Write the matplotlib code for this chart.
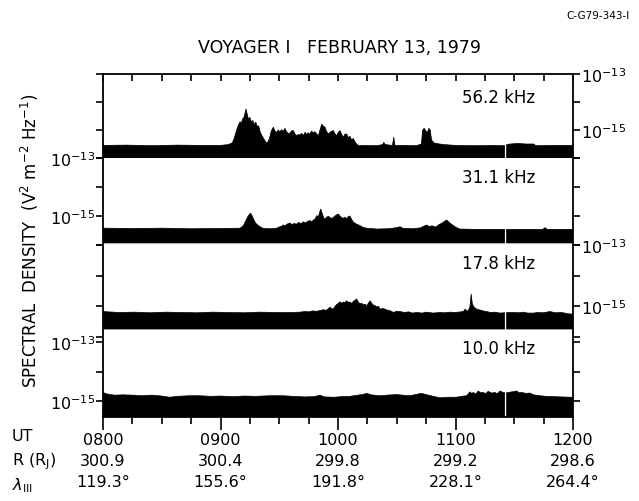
import numpy as np
import matplotlib
matplotlib.use("Agg")
import matplotlib.pyplot as plt
from matplotlib.ticker import FixedLocator, NullLocator, FuncFormatter, MultipleLocator

nan = np.nan

# (minutes after 0800 UT, log10 spectral density in V^2 m^-2 Hz^-1)
p56 = [
 (0,-15.55),(12,-15.54),(25,-15.56),(38,-15.54),(50,-15.55),(60,-15.55),(64,-15.52),(66,-15.46),(67,-15.3),(68,-15.05),
 (69,-14.85),(70,-14.7),(70.6,-14.78),(71.3,-14.6),(72,-14.55),(72.5,-14.4),(73,-14.25),(73.6,-14.42),(74.3,-14.62),(75,-14.55),
 (75.8,-14.72),(76.5,-14.66),(77.2,-14.8),(78,-14.72),(78.8,-14.88),(79.5,-14.85),(80.2,-15.05),(81,-15.18),(82,-15.3),(83,-15.42),
 (84,-15.46),(85,-15.3),(86,-15.02),(87,-14.9),(87.8,-15.04),(88.7,-15.08),(89.5,-15.0),(90.3,-15.06),(91.2,-14.99),(92,-15.05),
 (92.9,-14.94),(93.8,-15.06),(94.6,-15.12),(95.5,-15.11),(96.3,-15.03),(97.2,-15.02),(98,-15.14),(98.9,-15.2),(99.8,-15.16),(100.6,-15.18),
 (101.5,-15.12),(102.3,-15.2),(103.2,-15.08),(104,-15.16),(104.8,-15.1),(105.7,-15.14),(106.5,-15.04),(107.4,-15.1),(108.3,-15.06),(109.1,-15.14),
 (110,-15.2),(110.8,-15.0),(111.7,-14.79),(112.5,-14.86),(113.4,-14.9),(114.2,-15.06),(115.1,-15.14),(116,-15.08),(116.8,-15.04),(117.6,-15.02),
 (118.5,-15.14),(119.3,-15.2),(120.2,-15.08),(121,-15.02),(121.9,-15.16),(122.7,-15.26),(123.5,-15.15),(124.4,-15.14),(125.3,-15.28),(126.1,-15.22),
 (127,-15.36),(127.8,-15.3),(128.7,-15.42),(129.5,-15.5),(130.5,-15.56),(135,-15.55),(140,-15.56),(142.8,-15.52),(143.4,-15.44),(144.1,-15.52),
 (147.8,-15.55),(148.5,-15.26),(149.1,-15.55),(155,-15.55),(160,-15.56),(162.6,-15.5),(163.2,-15.0),(164,-14.94),(164.8,-15.02),(165.6,-15.1),
 (166.4,-14.94),(167.1,-15.0),(167.8,-15.36),(169,-15.46),(171,-15.49),(174,-15.52),(180,-15.55),(190,-15.56),(200,-15.55),(205.1,-15.56),
 (205.6,nan),(206.1,-15.52),(208,-15.5),(212,-15.48),(216,-15.5),(220,-15.5),(221,-15.56),(230,-15.55),(240,-15.55)
]
p31 = [
 (0,-15.42),(15,-15.43),(30,-15.42),(45,-15.44),(60,-15.43),(70,-15.42),(71.7,-15.33),(73,-15.15),(74.2,-14.99),(75.4,-14.9),
 (76.2,-15.0),(76.8,-15.1),(78,-15.25),(79.3,-15.33),(81,-15.4),(82,-15.43),(86,-15.44),(88.7,-15.42),(90,-15.38),(91,-15.36),
 (92.1,-15.31),(93,-15.34),(94,-15.28),(95.5,-15.24),(96.5,-15.3),(97.5,-15.26),(98.9,-15.28),(100,-15.22),(101,-15.27),(102.3,-15.2),
 (103.5,-15.24),(104.5,-15.18),(105.7,-15.16),(106.6,-15.2),(107.4,-15.14),(108.3,-15.1),(109.1,-14.99),(110,-15.02),(110.6,-14.88),(111.2,-14.76),
 (112,-14.92),(112.8,-15.08),(113.4,-15.1),(114.2,-15.04),(115.1,-15.01),(116,-15.06),(117,-15.08),(117.6,-15.05),(118.4,-15.0),(119.3,-14.96),
 (120.2,-14.93),(121,-15.0),(121.8,-15.05),(122.7,-15.08),(123.5,-15.04),(124.4,-15.1),(125.3,-15.02),(126.1,-15.0),(127,-15.12),(127.8,-15.21),
 (129.5,-15.28),(131.2,-15.33),(133,-15.4),(134.7,-15.42),(140,-15.45),(145,-15.44),(148,-15.42),(150,-15.4),(151.7,-15.37),(153,-15.42),
 (158,-15.44),(162,-15.41),(163.5,-15.36),(165.3,-15.31),(166.5,-15.36),(168,-15.34),(170,-15.38),(171.5,-15.3),(173,-15.25),(174.5,-15.18),
 (175.5,-15.14),(176.5,-15.2),(177.5,-15.26),(178.9,-15.33),(180.5,-15.4),(182.3,-15.45),(190,-15.46),(200,-15.46),(205.1,-15.46),(205.6,nan),
 (206.1,-15.46),(215,-15.46),(224.5,-15.46),(225.7,-15.4),(226.8,-15.46),(235,-15.46),(240,-15.46)
]
p17 = [
 (0,-15.17),(8,-15.2),(16,-15.19),(24,-15.21),(32,-15.19),(40,-15.2),(48,-15.21),(56,-15.19),(64,-15.2),(72,-15.21),
 (80,-15.19),(88,-15.2),(96,-15.2),(100.6,-15.19),(103,-15.17),(105,-15.18),(107,-15.15),(109,-15.16),(110.8,-15.14),(112.5,-15.11),
 (114,-15.13),(115.9,-15.03),(116.8,-15.07),(117.6,-15.09),(118.5,-15.0),(119.3,-14.94),(120.2,-14.9),(121,-14.85),(121.9,-14.9),(122.7,-14.86),
 (123.5,-14.88),(124.4,-14.82),(125.3,-14.87),(126.1,-14.86),(127,-14.9),(127.8,-14.84),(128.7,-14.8),(129.5,-14.76),(130.4,-14.86),(131.2,-14.92),
 (132.1,-14.9),(133,-14.95),(133.8,-14.93),(134.7,-14.98),(135.5,-14.9),(136.4,-14.82),(137.2,-14.9),(138.1,-14.96),(139,-14.98),(139.8,-15.02),
 (140.7,-15.0),(141.5,-15.09),(143.2,-15.07),(144.9,-15.12),(146.6,-15.14),(148.3,-15.2),(150,-15.16),(151.7,-15.17),(154,-15.2),(156,-15.18),
 (158,-15.22),(160.2,-15.2),(163,-15.22),(165,-15.19),(168.7,-15.22),(172,-15.2),(174.5,-15.21),(177.2,-15.19),(180,-15.2),(182.5,-15.18),
 (184,-15.17),(184.9,-15.09),(185.7,-15.15),(186.6,-15.14),(187.4,-15.0),(188,-14.6),(188.6,-14.92),(189.4,-15.02),(190.8,-15.09),(192.5,-15.12),
 (194.2,-15.15),(195.9,-15.17),(198,-15.2),(200,-15.19),(202.7,-15.22),(205.1,-15.21),(205.6,nan),(206.1,-15.2),(209.5,-15.2),(212,-15.21),
 (214.5,-15.19),(217,-15.22),(219.8,-15.22),(222,-15.2),(224.5,-15.21),(228.3,-15.17),(231,-15.21),(234,-15.2),(238.5,-15.25),(240,-15.25)
]
p10 = [
 (0,-14.71),(2,-14.76),(6,-14.8),(10,-14.79),(15.5,-14.8),(20,-14.82),(25,-14.8),(30,-14.83),(34,-14.87),(38,-14.84),
 (44,-14.82),(49.5,-14.82),(55,-14.84),(60,-14.83),(66.6,-14.85),(72,-14.83),(78,-14.84),(85,-14.82),(92,-14.82),(97,-14.84),
 (103,-14.86),(108,-14.85),(110.8,-14.8),(113,-14.86),(118,-14.87),(122,-14.85),(126.1,-14.84),(130,-14.8),(132.5,-14.78),(134.7,-14.74),
 (137,-14.79),(141.5,-14.82),(145,-14.8),(149.9,-14.78),(153,-14.8),(156.7,-14.82),(159.5,-14.78),(162.6,-14.74),(165.5,-14.79),(168.7,-14.84),
 (172,-14.89),(176,-14.87),(180.6,-14.87),(183,-14.84),(185.7,-14.82),(187.4,-14.69),(188.2,-14.74),(189.1,-14.71),(190.4,-14.76),(191.6,-14.66),
 (192.9,-14.72),(194.2,-14.71),(195.4,-14.75),(196.7,-14.67),(198.4,-14.73),(200.1,-14.71),(201.4,-14.75),(202.7,-14.66),(204,-14.7),(205.1,-14.72),
 (205.6,nan),(206.1,-14.72),(206.9,-14.71),(208.7,-14.69),(211.3,-14.66),(212.5,-14.72),(213.8,-14.71),(216,-14.74),(218.1,-14.73),(219.8,-14.79),
 (223.2,-14.82),(226,-14.84),(230,-14.85),(234,-14.86),(238.5,-14.87),(240,-14.87)
]
# lower edge (log10) of each black band
floors = [-16.0, -15.93, -15.74, -15.54]
freq_labels = ["56.2 kHz", "31.1 kHz", "17.8 kHz", "10.0 kHz"]
ut_labels = ["0800", "0900", "1000", "1100", "1200"]
r_labels = ["300.9", "300.4", "299.8", "299.2", "298.6"]
lam_labels = ["119.3°", "155.6°", "191.8°", "228.1°", "264.4°"]
hour_ticks = [0, 60, 120, 180, 240]

W, H = 639, 502
fig = plt.figure(figsize=(W / 100, H / 100), dpi=100)
plt.rcParams['font.family'] = ['DejaVu Sans']

def rect(top, bottom, left=103, right=573):
    return [left / W, 1 - bottom / H, (right - left) / W, (bottom - top) / H]

# outer frame with the time axis
axf = fig.add_axes(rect(75, 418))
axf.set_xlim(0, 240)
axf.set_ylim(0, 1)
axf.set_yticks([])
for s in axf.spines.values():
    s.set_linewidth(1.3)
axf.xaxis.set_major_locator(FixedLocator(hour_ticks))
axf.xaxis.set_minor_locator(MultipleLocator(15))
axf.set_xticklabels([f"{u}\n{r}\n{l}" for u, r, l in zip(ut_labels, r_labels, lam_labels)],
                    fontsize=11.5, linespacing=1.5)
axf.tick_params(axis='x', which='major', direction='out', length=9, width=1.2, pad=2, top=False)
axf.tick_params(axis='x', which='minor', direction='out', length=5, width=1.2, top=False)

panels = [p56, p31, p17, p10]
extents = [(75, 159), (159, 246), (246, 338), (343, 418)]
ylims = [(-16, -13), (-16, -13), (-16, -13), (-15.54, -13)]
label_side = ['right', 'left', 'right', 'left']
label_pos = [0.73, 0.78, 0.80, 0.92]

def fmt(v, pos):
    e = int(round(np.log10(v)))
    return r'$10^{%d}$' % e if e in (-13, -15) else ''

for i, (pdata, (top, bot), yl, side) in enumerate(zip(panels, extents, ylims, label_side)):
    ax = fig.add_axes(rect(top, bot))
    ax.patch.set_visible(False)
    for s in ax.spines.values():
        s.set_visible(False)
    arr = np.array(pdata, dtype=float)
    t, v = arr[:, 0], arr[:, 1]
    hi = 10 ** v
    lo = np.where(np.isnan(v), np.nan, 10 ** floors[i])
    ax.fill_between(t, lo, hi, color='black', linewidth=0.5, edgecolor='black')
    ax.set_yscale('log')
    ax.set_xlim(0, 240)
    ax.set_ylim(10 ** yl[0], 10 ** yl[1])
    ax.yaxis.set_major_locator(FixedLocator([1e-13, 1e-14, 1e-15, 1e-16]))
    ax.yaxis.set_minor_locator(NullLocator())
    ax.yaxis.set_major_formatter(FuncFormatter(fmt))
    ax.tick_params(axis='y', which='major', direction='out', length=5, width=1.2,
                   left=True, right=True, labelleft=(side == 'left'),
                   labelright=(side == 'right'), labelsize=11.5, pad=1)
    if i == 0:
        ax.xaxis.set_major_locator(MultipleLocator(15))
        ax.tick_params(axis='x', direction='in', length=5, width=1.2, top=True,
                       bottom=False, labeltop=False, labelbottom=False)
    else:
        ax.set_xticks([])
    ax.text(0.764, label_pos[i], freq_labels[i], transform=ax.transAxes,
            fontsize=12, ha='left', va='center')

fig.text(339 / W, 1 - 48 / H, "VOYAGER I   FEBRUARY 13, 1979", fontsize=12.5,
         ha='center', va='center')
fig.text(598 / W, 1 - 16 / H, "C-G79-343-I", fontsize=7.5, ha='center', va='center')
fig.text(30 / W, 1 - 241 / H, r"SPECTRAL  DENSITY  (V$^2$ m$^{-2}$ Hz$^{-1}$)",
         rotation=90, fontsize=12, ha='center', va='center')
fig.text(12 / W, 1 - 437 / H, "UT", fontsize=11.5, ha='left', va='center')
fig.text(12 / W, 1 - 462 / H, r"R (R$_{\rm J}$)", fontsize=11.5, ha='left', va='center')
fig.text(12 / W, 1 - 486 / H, r"$\lambda_{\rm III}$", fontsize=11.5, ha='left', va='center')

fig.savefig("out.png", dpi=100)
